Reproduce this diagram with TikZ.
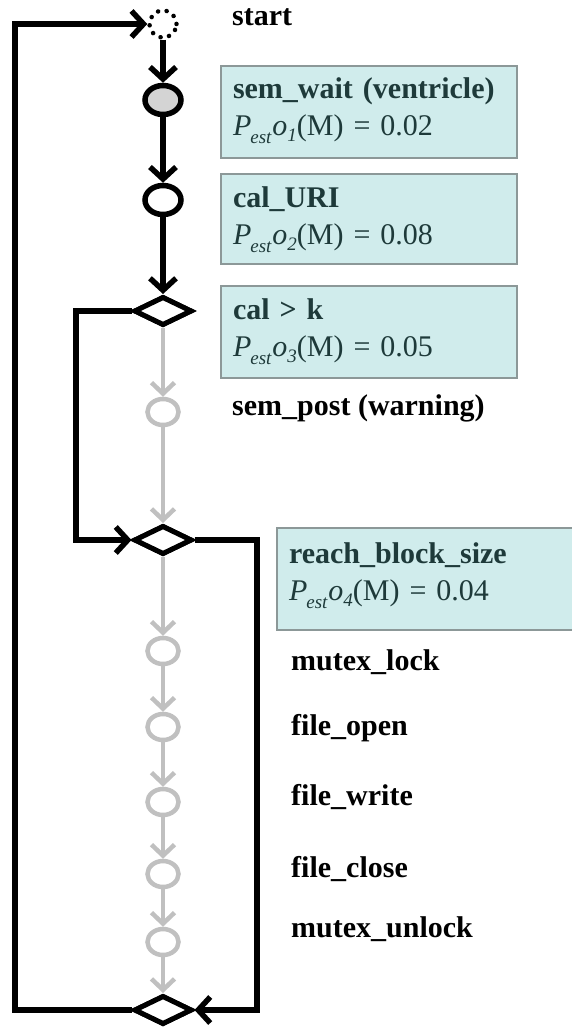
\documentclass[tikz,border=0pt]{standalone}
\usepackage{fontspec}
\setmainfont{Liberation Serif}
\usetikzlibrary{shapes.geometric, arrows.meta}

\definecolor{boxfill}{RGB}{208,236,236}
\definecolor{boxline}{RGB}{140,152,152}
\definecolor{boxtext}{RGB}{30,58,58}
\definecolor{inactive}{RGB}{192,192,192}
\definecolor{statefill}{RGB}{212,212,212}

% estimated probability  P_est o_i
\newcommand{\Pest}[1]{\textit{P\kern-1pt\raisebox{-8pt}{\fontsize{19}{19}\selectfont est}\kern1pt o\raisebox{-6pt}{\fontsize{19}{19}\selectfont #1}}}

\tikzset{
  flow/.style={line width=5.5pt, draw=black},
  flowarrow/.style={flow, -{Straight Barb[length=12pt,width=26pt]}},
  idle/.style={line width=4.5pt, draw=inactive},
  idlearrow/.style={idle, -{Straight Barb[length=11pt,width=23pt]}},
  state/.style={ellipse, draw=black, fill=white, line width=5.5pt,
    minimum width=36pt, minimum height=29pt, inner sep=0pt},
  idlestate/.style={ellipse, draw=inactive, fill=white, line width=4.5pt,
    minimum width=31pt, minimum height=26pt, inner sep=0pt},
  choice/.style={diamond, draw=black, fill=white, line width=5pt,
    minimum width=58pt, minimum height=29pt, inner sep=0pt},
  infobox/.style={draw=boxline, fill=boxfill, line width=2pt, text=boxtext,
    anchor=north west, text width=272pt, inner xsep=12pt, inner ysep=12pt,
    align=left, font=\fontsize{30}{37}\selectfont},
  steplabel/.style={anchor=base west, inner sep=0pt, text=black,
    font=\fontsize{30}{37}\selectfont\bfseries},
}

\begin{document}
\begin{tikzpicture}[x=1pt, y=-1pt]
\useasboundingbox (0,0) rectangle (572,1030);

% states of the main path
\node[circle, draw=black, line width=4.5pt, dash pattern=on 0.1pt off 8.6pt,
      line cap=round, minimum size=27pt, inner sep=0pt] (start) at (163,24) {};
\node[state, fill=statefill] (c1) at (163,100) {};
\node[state] (c2) at (163,200) {};
\node[choice] (d1) at (163,311) {};
\node[idlestate] (c3) at (163,412) {};
\node[choice] (d2) at (163,540) {};
\node[idlestate] (c4) at (163,651) {};
\node[idlestate] (c5) at (163,727) {};
\node[idlestate] (c6) at (163,802) {};
\node[idlestate] (c7) at (163,874) {};
\node[idlestate] (c8) at (163,942) {};
\node[choice] (d3) at (163,1010) {};

% bends of the loop lines
\coordinate (loopL) at (15,24);
\coordinate (skipL) at (76,540);
\coordinate (skipR) at (257,1010);

% executed transitions
\draw[flowarrow] (start) -- (c1);
\draw[flowarrow] (c1) -- (c2);
\draw[flowarrow] (c2) -- (d1);
\draw[flowarrow] (d3.west) -| (loopL) -- (start.west);
\draw[flowarrow] (d1.west) -| (skipL) -- (d2.west);
\draw[flowarrow] (d2.east) -| (skipR) -- (d3.east);

% skipped transitions
\draw[idlearrow] (d1) -- (c3);
\draw[idlearrow] (c3) -- (d2);
\draw[idlearrow] (d2) -- (c4);
\draw[idlearrow] (c4) -- (c5);
\draw[idlearrow] (c5) -- (c6);
\draw[idlearrow] (c6) -- (c7);
\draw[idlearrow] (c7) -- (c8);
\draw[idlearrow] (c8) -- (d3);

% redraw the decisions on top of the connectors
\node[choice] at (d1) {};
\node[choice] at (d2) {};
\node[choice] at (d3) {};

% annotations
\node[steplabel] (lstart) at (232,26) {start};
\node[infobox] (b1) at (220,65) {\rule{0pt}{21pt}\textbf{sem\_wait (ventricle)}\\
  \Pest{1}(M) = 0.02\rule[-10pt]{0pt}{10pt}};
\node[infobox] (b2) at (220,173) {\rule{0pt}{21pt}\textbf{cal\_URI}\\
  \Pest{2}(M) = 0.08\rule[-8pt]{0pt}{8pt}};
\node[infobox] (b3) at (220,285) {\rule{0pt}{21pt}\textbf{cal > k}\\
  \Pest{3}(M) = 0.05\rule[-10pt]{0pt}{10pt}};
\node[steplabel] (lpost) at (232,415) {sem\_post (warning)};
\node[infobox] (b4) at (276,527) {\rule{0pt}{23pt}\textbf{reach\_block\_size}\\
  \Pest{4}(M) = 0.04\rule[-18pt]{0pt}{18pt}};
\node[steplabel] (llock) at (291,670) {mutex\_lock};
\node[steplabel] (lopen) at (291,735) {file\_open};
\node[steplabel] (lwrite) at (291,805) {file\_write};
\node[steplabel] (lclose) at (291,877) {file\_close};
\node[steplabel] (lunlock) at (291,937) {mutex\_unlock};
\end{tikzpicture}
\end{document}
